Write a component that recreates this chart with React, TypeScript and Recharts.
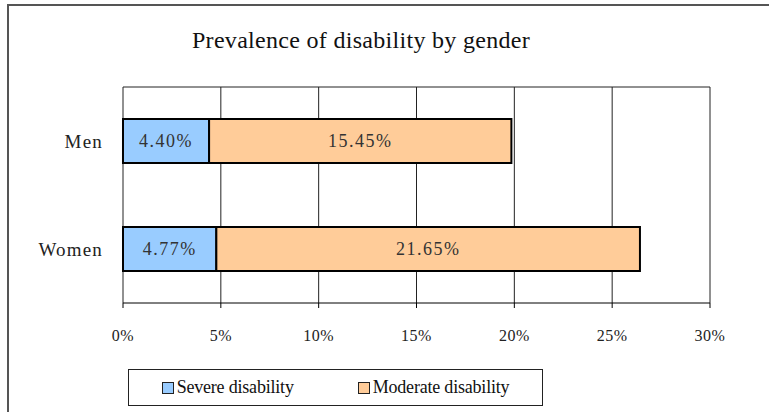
import { Bar, BarChart, CartesianGrid, LabelList, XAxis, YAxis } from "recharts";

// prevalence (%) by gender
const categories = ["Men", "Women"];
const severe = [4.4, 4.77];
const moderate = [15.45, 21.65];
const xTicks = [0, 5, 10, 15, 20, 25, 30];
const bandEdges = [0, 1, 2];

const SEVERE_NAME = "Severe disability";
const MODERATE_NAME = "Moderate disability";
const SEVERE_COLOR = "#99ccff";
const MODERATE_COLOR = "#ffcc99";

const SERIF = "Liberation Serif, serif";

const data = categories.map((name, i) => ({
    name,
    severe: severe[i],
    moderate: moderate[i],
}));

const pct = (v: any) => `${Number(v).toFixed(2)}%`;

const LegendItem = ({ color, label }: { color: string; label: string }) => (
    <div style={{ display: "flex", alignItems: "center" }}>
        <span
            style={{
                display: "inline-block",
                width: 10,
                height: 10,
                background: color,
                border: "1px solid #222",
                marginRight: 3,
            }}
        />
        <span>{label}</span>
    </div>
);

export default function App() {
    return (
        <div
            style={{
                position: "absolute",
                left: 0,
                top: 0,
                width: 769,
                height: 412,
                overflow: "hidden",
                background: "#fff",
                fontFamily: SERIF,
            }}
        >
            <div
                style={{
                    position: "absolute",
                    left: 7,
                    top: 4,
                    width: 820,
                    height: 460,
                    borderLeft: "2px solid #555",
                    borderTop: "2px solid #555",
                }}
            />
            <div
                style={{
                    position: "absolute",
                    left: 0,
                    top: 28,
                    width: 722,
                    textAlign: "center",
                    fontSize: 24,
                    lineHeight: "24px",
                    letterSpacing: 0.3,
                    color: "#111",
                }}
            >
                Prevalence of disability by gender
            </div>
            <div style={{ position: "absolute", left: 0, top: 0 }}>
                <BarChart
                    width={769}
                    height={412}
                    data={data}
                    layout="vertical"
                    barSize={44}
                    margin={{ top: 87, right: 59, bottom: 69, left: 23 }}
                >
                    <CartesianGrid
                        stroke="#222"
                        strokeWidth={1}
                        horizontalCoordinatesGenerator={({ offset }: any) => [offset.top]}
                    />
                    <XAxis
                        type="number"
                        domain={[0, 30]}
                        ticks={xTicks}
                        interval={0}
                        height={40}
                        tickFormatter={(v) => `${v}%`}
                        tickSize={5}
                        tickMargin={22}
                        axisLine={{ stroke: "#000" }}
                        tickLine={{ stroke: "#000" }}
                        tick={{ fill: "#222", fontSize: 16, fontFamily: SERIF, letterSpacing: 0.5 }}
                    />
                    {/* plain axis carrying tick marks at the category band edges */}
                    <YAxis
                        yAxisId="edges"
                        type="number"
                        domain={[0, 2]}
                        ticks={bandEdges}
                        width={0}
                        tick={false}
                        tickSize={5}
                        axisLine={{ stroke: "#000" }}
                        tickLine={{ stroke: "#000" }}
                    />
                    <YAxis
                        type="category"
                        dataKey="name"
                        width={100}
                        axisLine={false}
                        tickLine={false}
                        tickSize={5}
                        tickMargin={15}
                        tick={{ fill: "#222", fontSize: 19, fontFamily: SERIF, letterSpacing: 1.2 }}
                    />
                    <Bar
                        dataKey="severe"
                        name={SEVERE_NAME}
                        stackId="a"
                        fill={SEVERE_COLOR}
                        stroke="#000"
                        strokeWidth={2}
                        isAnimationActive={false}
                    >
                        <LabelList
                            dataKey="severe"
                            position="center"
                            formatter={pct}
                            fill="#333"
                            fontSize={18}
                            fontFamily={SERIF}
                            letterSpacing={1.5}
                        />
                    </Bar>
                    <Bar
                        dataKey="moderate"
                        name={MODERATE_NAME}
                        stackId="a"
                        fill={MODERATE_COLOR}
                        stroke="#000"
                        strokeWidth={2}
                        isAnimationActive={false}
                    >
                        <LabelList
                            dataKey="moderate"
                            position="center"
                            formatter={pct}
                            fill="#333"
                            fontSize={18}
                            fontFamily={SERIF}
                            letterSpacing={1.5}
                        />
                    </Bar>
                </BarChart>
            </div>
            <div
                style={{
                    position: "absolute",
                    left: 128,
                    top: 369,
                    width: 415,
                    height: 37,
                    boxSizing: "border-box",
                    border: "1.5px solid #222",
                    display: "flex",
                    alignItems: "center",
                    justifyContent: "center",
                    gap: 64,
                    fontSize: 18,
                    letterSpacing: -0.2,
                    color: "#111",
                }}
            >
                <LegendItem color={SEVERE_COLOR} label={SEVERE_NAME} />
                <LegendItem color={MODERATE_COLOR} label={MODERATE_NAME} />
            </div>
        </div>
    );
}
